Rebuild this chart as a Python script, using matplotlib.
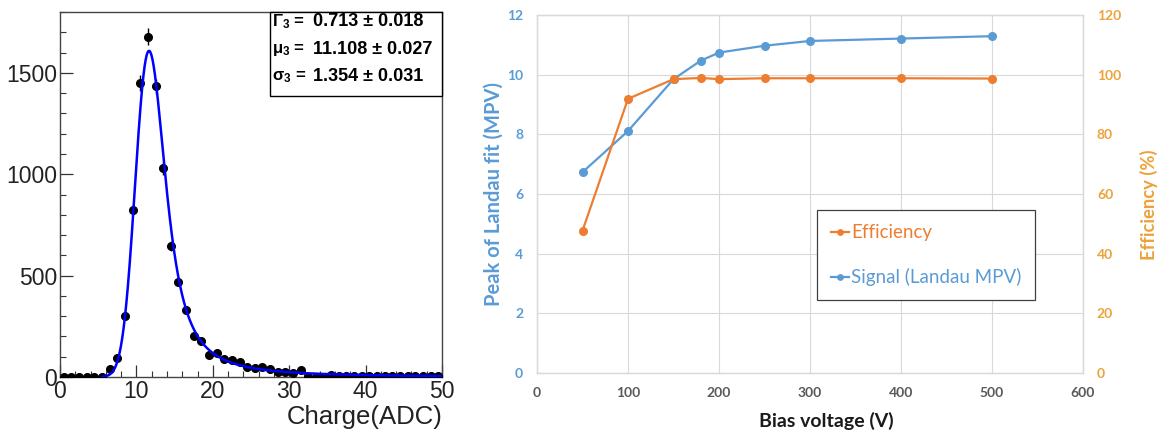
import numpy as np
import matplotlib
matplotlib.use("Agg")
import matplotlib.pyplot as plt
from matplotlib.patches import Rectangle

# ---------------- data: left panel (charge histogram) ----------------
bin_centers = np.arange(0.5, 50.0, 1.0)
counts = np.array([
    0, 0, 0, 0, 0, 0, 37, 95, 303, 826,
    1450, 1678, 1434, 1029, 646, 468, 330, 203, 178, 108,
    118, 90, 84, 72, 50, 45, 48, 40, 23, 23,
    20, 33, 2, 2, 2, 10, 5, 4, 4, 5,
    3, 4, 5, 4, 3, 4, 4, 3, 4, 3], dtype=float)

# Landau (x) Gauss fit parameters shown in the stats box
fit_width = 0.713   # Gamma_3
fit_mpv = 11.108    # mu_3
fit_sigma = 1.354   # sigma_3
stats_labels = ["Γ$_3$ =", "μ$_3$ =", "σ$_3$ ="]
stats_values = ["0.713 ± 0.018", "11.108 ± 0.027", "1.354 ± 0.031"]
fit_range = (5.5, 50.0)

# ---------------- data: right panel (bias scan) ----------------
bias_v = [50, 100, 150, 180, 200, 250, 300, 400, 500]
signal_mpv = [6.73, 8.11, 9.85, 10.47, 10.74, 10.97, 11.13, 11.21, 11.29]
efficiency = [47.7, 91.9, 98.5, 98.9, 98.5, 98.8, 98.8, 98.8, 98.7]


def landau_std(lam):
    t = np.linspace(1e-9, 40.0, 40001)
    base = -t * np.log(t)
    s = np.sin(np.pi * t)
    out = np.zeros_like(lam)
    for i in np.where(lam > -3.2)[0]:
        out[i] = np.trapezoid(np.exp(base - lam[i] * t) * s, t) / np.pi
    return np.clip(out, 0, None)


def langaus(width, mpv, sigma):
    dx = 0.02
    xg = np.arange(-10.0, 70.0 + dx / 2, dx)
    mpc = mpv + 0.22278298 * width
    lan = landau_std((xg - mpc) / width) / width
    n = int(round(6 * sigma / dx))
    k = np.arange(-n, n + 1) * dx
    g = np.exp(-0.5 * (k / sigma) ** 2) / (np.sqrt(2 * np.pi) * sigma)
    conv = np.convolve(lan, g, mode="same") * dx
    return xg, conv, dx


xg, dens, dx = langaus(fit_width, fit_mpv, fit_sigma)
inrange = (xg >= 0) & (xg <= 50)
scale = counts.sum() / (dens[inrange].sum() * dx)
fit_curve = dens * scale
draw = (xg >= fit_range[0]) & (xg <= fit_range[1])

# ---------------- figure ----------------
W, H = 1159, 430
fig = plt.figure(figsize=(W / 100, H / 100), dpi=100)
plt.rcParams["mathtext.default"] = "regular"


def px_axes(l, r, t, b):
    return [l / W, 1 - b / H, (r - l) / W, (b - t) / H]


# ---- left panel ----
axL = fig.add_axes(px_axes(60, 442, 12, 377))
axL.errorbar(bin_centers, counts, yerr=np.sqrt(counts), xerr=0.5, fmt="o",
             color="black", ms=5.5, lw=1, capsize=0, zorder=3)
axL.plot(xg[draw], fit_curve[draw], color="#0000ff", lw=1.8, zorder=4)
axL.set_xlim(0, 50)
axL.set_ylim(0, 1800)
axL.set_xticks([0, 10, 20, 30, 40, 50])
axL.set_xticks(np.arange(0, 51, 2), minor=True)
axL.set_yticks([0, 500, 1000, 1500])
axL.set_yticks(np.arange(0, 1801, 100), minor=True)
for lbl in axL.get_xticklabels() + axL.get_yticklabels():
    lbl.set_fontfamily("Liberation Sans")
axL.tick_params(axis="both", which="major", direction="in", length=9,
                width=0.9, labelsize=16.5, colors="#333333", labelcolor="#222222")
axL.tick_params(axis="both", which="minor", direction="in", length=4.5,
                width=0.8, colors="#333333")
axL.tick_params(axis="x", pad=2)
axL.tick_params(axis="y", pad=2)
for sp in axL.spines.values():
    sp.set_color("#444444")
    sp.set_linewidth(1.0)
fig.text(443 / W, 1 - 417 / H, "Charge(ADC)", ha="right", va="center",
         fontsize=18.5, family="Liberation Sans", color="#222222")

# stats box
axL.add_patch(Rectangle((0.5497, 0.770), 1 - 0.5497, 0.23, transform=axL.transAxes,
                        fill=True, facecolor="white", edgecolor="black", lw=1.0,
                        zorder=5, clip_on=False))
for i, (lb, val) in enumerate(zip(stats_labels, stats_values)):
    yy = [0.973, 0.897, 0.822][i]
    axL.text(0.555, yy, lb, transform=axL.transAxes, ha="left", va="center",
             fontsize=12, fontweight="bold", family="Liberation Sans", zorder=6)
    axL.text(0.663, yy, val, transform=axL.transAxes, ha="left", va="center",
             fontsize=13, fontweight="bold", family="Liberation Sans", zorder=6)

# ---- right panel ----
blue = "#5B9BD5"
orange = "#ED7D31"
gold = "#EDA23A"
grid_c = "#D9D9D9"

axR = fig.add_axes(px_axes(537, 1083, 15, 373))
axR2 = axR.twinx()
axR.set_xlim(0, 600)
axR.set_ylim(0, 12)
axR2.set_ylim(0, 120)
axR.set_xticks(np.arange(0, 601, 100))
axR.set_yticks(np.arange(0, 13, 2))
axR2.set_yticks(np.arange(0, 121, 20))
axR.grid(True, color=grid_c, lw=0.8)
axR.set_axisbelow(True)
ls, = axR.plot(bias_v, signal_mpv, color=blue, lw=1.6, marker="o", ms=5.5,
               zorder=3, label="Signal (Landau MPV)")
le, = axR2.plot(bias_v, efficiency, color=orange, lw=1.6, marker="o", ms=5.5,
                zorder=3, label="Efficiency")
for a in (axR, axR2):
    for sp in a.spines.values():
        sp.set_color(grid_c)
        sp.set_linewidth(0.9)
axR.tick_params(axis="x", length=0, pad=10, labelsize=10, labelcolor="#595959")
axR.tick_params(axis="y", length=0, pad=10, labelsize=10, labelcolor=blue)
axR2.tick_params(axis="y", length=0, pad=10, labelsize=10, labelcolor=gold)
for lbl in (axR.get_xticklabels() + axR.get_yticklabels() + axR2.get_yticklabels()):
    lbl.set_fontfamily("Lato")
    lbl.set_fontweight("bold")

fig.text(494 / W, 1 - 194 / H, "Peak of Landau fit (MPV)", rotation=90,
         ha="center", va="center", fontsize=14.5, fontweight="bold",
         family="Lato", color=blue)
fig.text(1149 / W, 1 - 205 / H, "Efficiency (%)", rotation=90,
         ha="center", va="center", fontsize=13.2, fontweight="bold",
         family="Lato", color=gold)
fig.text(826 / W, 1 - 421 / H, "Bias voltage (V)", ha="center", va="center",
         fontsize=14, fontweight="bold", family="Lato", color="#1a1a1a")

leg = axR2.legend([le, ls], ["Efficiency", "Signal (Landau MPV)"],
                  loc="upper left", bbox_to_anchor=(0.513, 0.455),
                  borderaxespad=0.0,
                  frameon=True, fancybox=False, framealpha=1,
                  edgecolor="#404040", prop=dict(family="Lato", size=13.5),
                  handlelength=0.95, handletextpad=0.1, labelspacing=1.45,
                  borderpad=0.75, markerscale=0.7)
leg.get_frame().set_linewidth(0.9)
for txt, c in zip(leg.get_texts(), [orange, blue]):
    txt.set_color(c)

fig.savefig("out.png", dpi=100)
